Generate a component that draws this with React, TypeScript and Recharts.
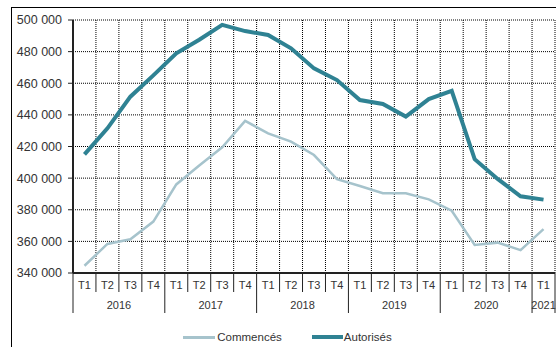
import React from "react";
import {
  LineChart,
  Line,
  XAxis,
  YAxis,
  CartesianGrid,
  Legend,
} from "recharts";

// trimestres 2016 T1 -> 2021 T1
const quarters = [
  "T1", "T2", "T3", "T4",
  "T1", "T2", "T3", "T4",
  "T1", "T2", "T3", "T4",
  "T1", "T2", "T3", "T4",
  "T1", "T2", "T3", "T4",
  "T1",
];
const years = [
  "2016", "2016", "2016", "2016",
  "2017", "2017", "2017", "2017",
  "2018", "2018", "2018", "2018",
  "2019", "2019", "2019", "2019",
  "2020", "2020", "2020", "2020",
  "2021",
];

const commences = [
  344600, 358400, 361300, 372500,
  396000, 408000, 419500, 436200,
  428300, 423100, 414600, 399300,
  395000, 390400, 390400, 386600,
  379400, 357700, 359200, 354500,
  367700,
];
const autorises = [
  415000, 431500, 451500, 465000,
  478900, 487500, 496900, 493000,
  490500, 482100, 469400, 462000,
  449400, 446900, 438900, 450000,
  455200, 412000, 399500, 388500,
  386400,
];

const yTicks = [340000, 360000, 380000, 400000, 420000, 440000, 460000, 480000, 500000];

const data = quarters.map((q, i) => ({
  period: `${years[i]} ${q}`,
  commences: commences[i],
  autorises: autorises[i],
}));

const W = 556;
const H = 347;
const PLOT_LEFT = 73;
const PLOT_RIGHT = 555;
const BAND = (PLOT_RIGHT - PLOT_LEFT) / quarters.length;
const FONT = "'Liberation Sans', Arial, sans-serif";

const fmt = (v: number) => {
  const s = String(v);
  return s.slice(0, s.length - 3) + " " + s.slice(-3);
};

const PeriodTick = (props: any) => {
  const { x, y, index } = props;
  const half = BAND / 2;
  const left = x - half;
  const isYearStart = index === 0 || years[index] !== years[index - 1];
  const isLast = index === quarters.length - 1;
  // libellé de l'année centré sur son groupe
  let yearLabel: React.ReactNode = null;
  if (isYearStart) {
    let n = 0;
    while (years[index + n] === years[index]) n++;
    const cx = left + (n * BAND) / 2;
    yearLabel = (
      <text x={cx} y={y + 36} textAnchor="middle" fontSize={11} fill="#333" fontFamily={FONT}>
        {years[index]}
      </text>
    );
  }
  return (
    <g>
      <line x1={left} x2={left} y1={y} y2={y + (isYearStart ? 40 : 19)} stroke="#222" strokeWidth={1} />
      {isLast && <line x1={x + half} x2={x + half} y1={y} y2={y + 40} stroke="#222" strokeWidth={1} />}
      <text x={x} y={y + 16} textAnchor="middle" fontSize={11} fill="#333" fontFamily={FONT}>
        {quarters[index]}
      </text>
      {yearLabel}
    </g>
  );
};

const LegendContent = () => (
  <div
    style={{
      display: "flex",
      justifyContent: "center",
      gap: 30,
      fontFamily: FONT,
      fontSize: 11.5,
      color: "#333",
      paddingLeft: 20,
    }}
  >
    <span style={{ display: "flex", alignItems: "center" }}>
      <span style={{ width: 32, height: 3, background: "#a6c3cc", marginRight: 2 }} />
      Commencés
    </span>
    <span style={{ display: "flex", alignItems: "center" }}>
      <span style={{ width: 31, height: 4, background: "#2f8293", marginRight: 1 }} />
      Autorisés
    </span>
  </div>
);

export default function App() {
  return (
    <div style={{ position: "absolute", left: 0, top: 0, width: W, height: H, background: "#fff", overflow: "hidden" }}>
      <div
        style={{
          position: "absolute",
          left: 11,
          top: 7,
          width: W,
          height: H,
          borderLeft: "1px solid #000",
          borderTop: "1px solid #000",
        }}
      />
      <div style={{ position: "absolute", left: 0, top: 0 }}>
        <LineChart
          width={W}
          height={H}
          data={data}
          margin={{ top: 20, right: W - PLOT_RIGHT, left: 0, bottom: 15 }}
        >
          <CartesianGrid
            stroke="#000"
            strokeDasharray="1 1"
            verticalCoordinatesGenerator={({ offset }: any) =>
              Array.from({ length: quarters.length + 1 }, (_, i) => offset.left + (i * offset.width) / quarters.length)
            }
          />
          <XAxis
            dataKey="period"
            scale="band"
            interval={0}
            tickSize={0}
            tickMargin={0}
            tickLine={false}
            height={45}
            axisLine={{ stroke: "#222", strokeWidth: 2 }}
            tick={<PeriodTick />}
          />
          <YAxis
            width={PLOT_LEFT}
            domain={[340000, 500000]}
            ticks={yTicks}
            interval={0}
            tickFormatter={fmt}
            tickSize={5}
            tickMargin={6}
            axisLine={{ stroke: "#222", strokeWidth: 2 }}
            tickLine={{ stroke: "#222" }}
            tick={{ fontSize: 12.5, fill: "#333", fontFamily: FONT }}
          />
          <Legend verticalAlign="bottom" height={14} wrapperStyle={{ bottom: 2 }} content={<LegendContent />} />
          <Line
            type="linear"
            dataKey="commences"
            name="Commencés"
            stroke="#a6c3cc"
            strokeWidth={2.5}
            dot={false}
            isAnimationActive={false}
          />
          <Line
            type="linear"
            dataKey="autorises"
            name="Autorisés"
            stroke="#2f8293"
            strokeWidth={4}
            dot={false}
            isAnimationActive={false}
          />
        </LineChart>
      </div>
    </div>
  );
}
